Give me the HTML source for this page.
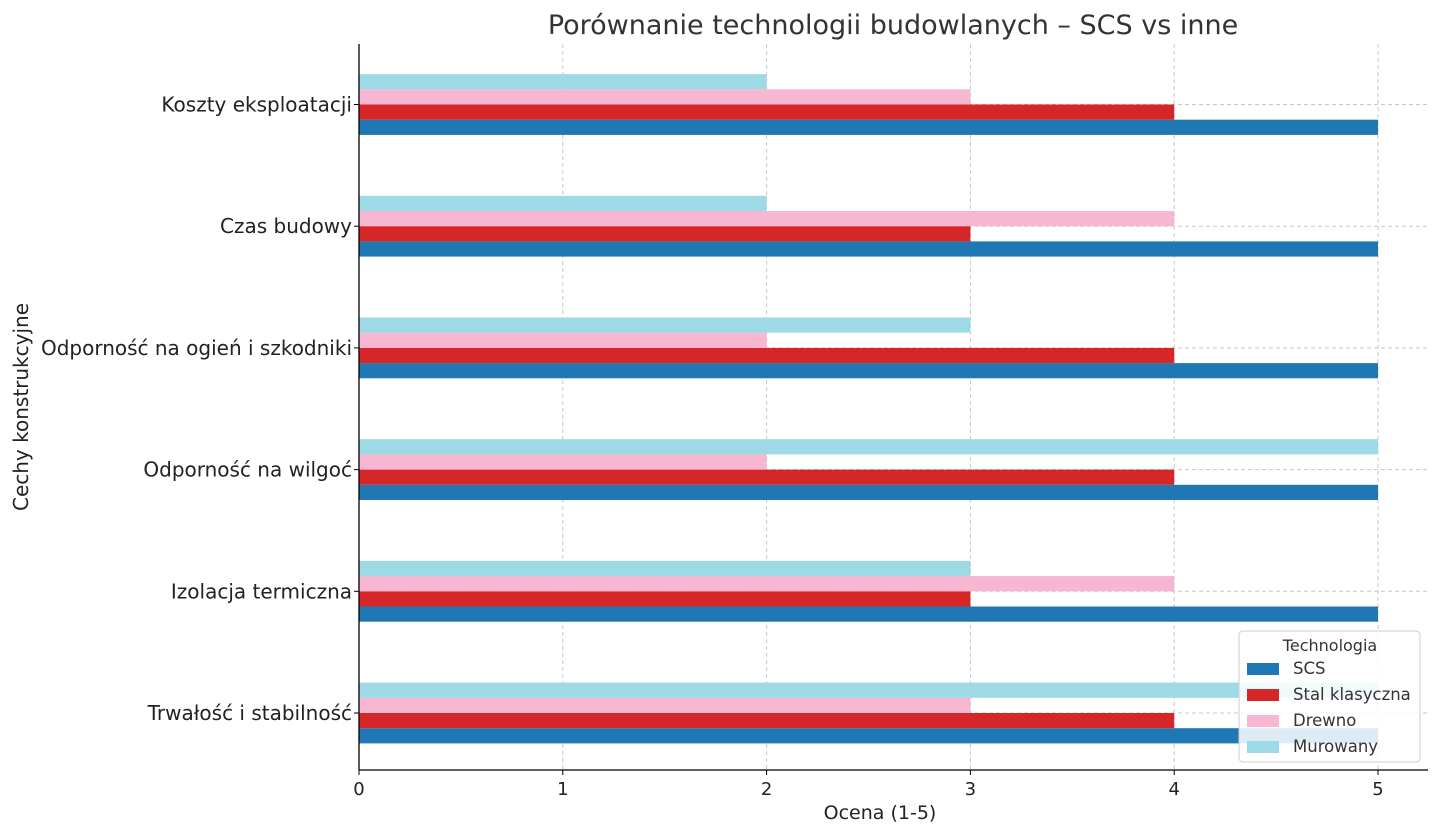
<!DOCTYPE html>
<html><head><meta charset="utf-8"><style>
body{margin:0;background:#fff;font-family:"Liberation Sans","DejaVu Sans",sans-serif;}
svg text{font-family:"DejaVu Sans","Liberation Sans",sans-serif;}
</style></head><body>
<svg id="chart" width="1440" height="835" xmlns="http://www.w3.org/2000/svg"></svg>
<script>
const categories=["Trwałość i stabilność","Izolacja termiczna","Odporność na wilgoć","Odporność na ogień i szkodniki","Czas budowy","Koszty eksploatacji"];
const seriesNames=["SCS","Stal klasyczna","Drewno","Murowany"];
const scsValues=[5,5,5,5,5,5];
const stalValues=[4,3,4,4,3,4];
const drewnoValues=[3,4,2,2,4,3];
const murowanyValues=[5,3,5,3,2,2];
const xTicks=[0,1,2,3,4,5];
const colors=["#1f77b4","#d62728","#f7b6d2","#9edae5"];
const series=[scsValues,stalValues,drewnoValues,murowanyValues];
const NS="http://www.w3.org/2000/svg";
const svg=document.getElementById('chart');
const L=359,R=1428,T=44,B=770;
const x=v=>L+v*(1378-L)/5;
const yc=i=>713-i*121.7;
const bh=15.2;
function mk(t,a,txt){const e=document.createElementNS(NS,t);for(const k in a)e.setAttribute(k,a[k]);if(txt!==undefined)e.textContent=txt;svg.appendChild(e);return e;}
xTicks.forEach(v=>{const g=mk('line',{x1:x(v),x2:x(v),y1:T,y2:B,stroke:'#c8c8c8','stroke-dasharray':'4,3','stroke-width':1});
});
categories.forEach((c,i)=>{const g=mk('line',{x1:L,x2:R,y1:yc(i),y2:yc(i),stroke:'#c8c8c8','stroke-dasharray':'4,3','stroke-width':1});
});
categories.forEach((c,i)=>{series.forEach((s,j)=>{
const top=yc(i)+bh*(1-j);
const r=mk('rect',{x:L,y:top,width:x(s[i])-L,height:bh,fill:colors[j]});


});});
let a=mk('line',{x1:L,x2:L,y1:T,y2:B,stroke:'#000','stroke-width':1.3});
a=mk('line',{x1:L,x2:R,y1:B,y2:B,stroke:'#000','stroke-width':1.3});
xTicks.forEach(v=>{mk('line',{x1:x(v),x2:x(v),y1:B,y2:B+5,stroke:'#000'});
const t=mk('text',{x:x(v),y:B+25,'text-anchor':'middle','font-size':18,fill:'#222'},String(v));
});
categories.forEach((c,i)=>{mk('line',{x1:L-5,x2:L,y1:yc(i),y2:yc(i),stroke:'#000'});
const t=mk('text',{x:L-7,y:yc(i)+7,'text-anchor':'end','font-size':20,fill:'#222'},c);
});
let t=mk('text',{x:893,y:34,'text-anchor':'middle','font-size':27,fill:'#333'},'Porównanie technologii budowlanych – SCS vs inne');

t=mk('text',{x:880,y:819,'text-anchor':'middle','font-size':19,fill:'#222'},'Ocena (1-5)');

t=mk('text',{x:28,y:407,'text-anchor':'middle','font-size':20,fill:'#222',transform:'rotate(-90 28 407)'},'Cechy konstrukcyjne');

const lg=mk('rect',{x:1239,y:631,width:181,height:131,rx:4,fill:'rgba(255,255,255,0.85)',stroke:'#ccc'});

t=mk('text',{x:1330,y:651,'text-anchor':'middle','font-size':16,fill:'#333'},'Technologia');

seriesNames.forEach((n,j)=>{const yy=669+j*26;
const s=mk('rect',{x:1247,y:yy-6,width:32,height:12,fill:colors[j]});

const e=mk('text',{x:1293,y:yy+5,'font-size':16.5,fill:'#333'},n);
});
</script>
</body></html>
